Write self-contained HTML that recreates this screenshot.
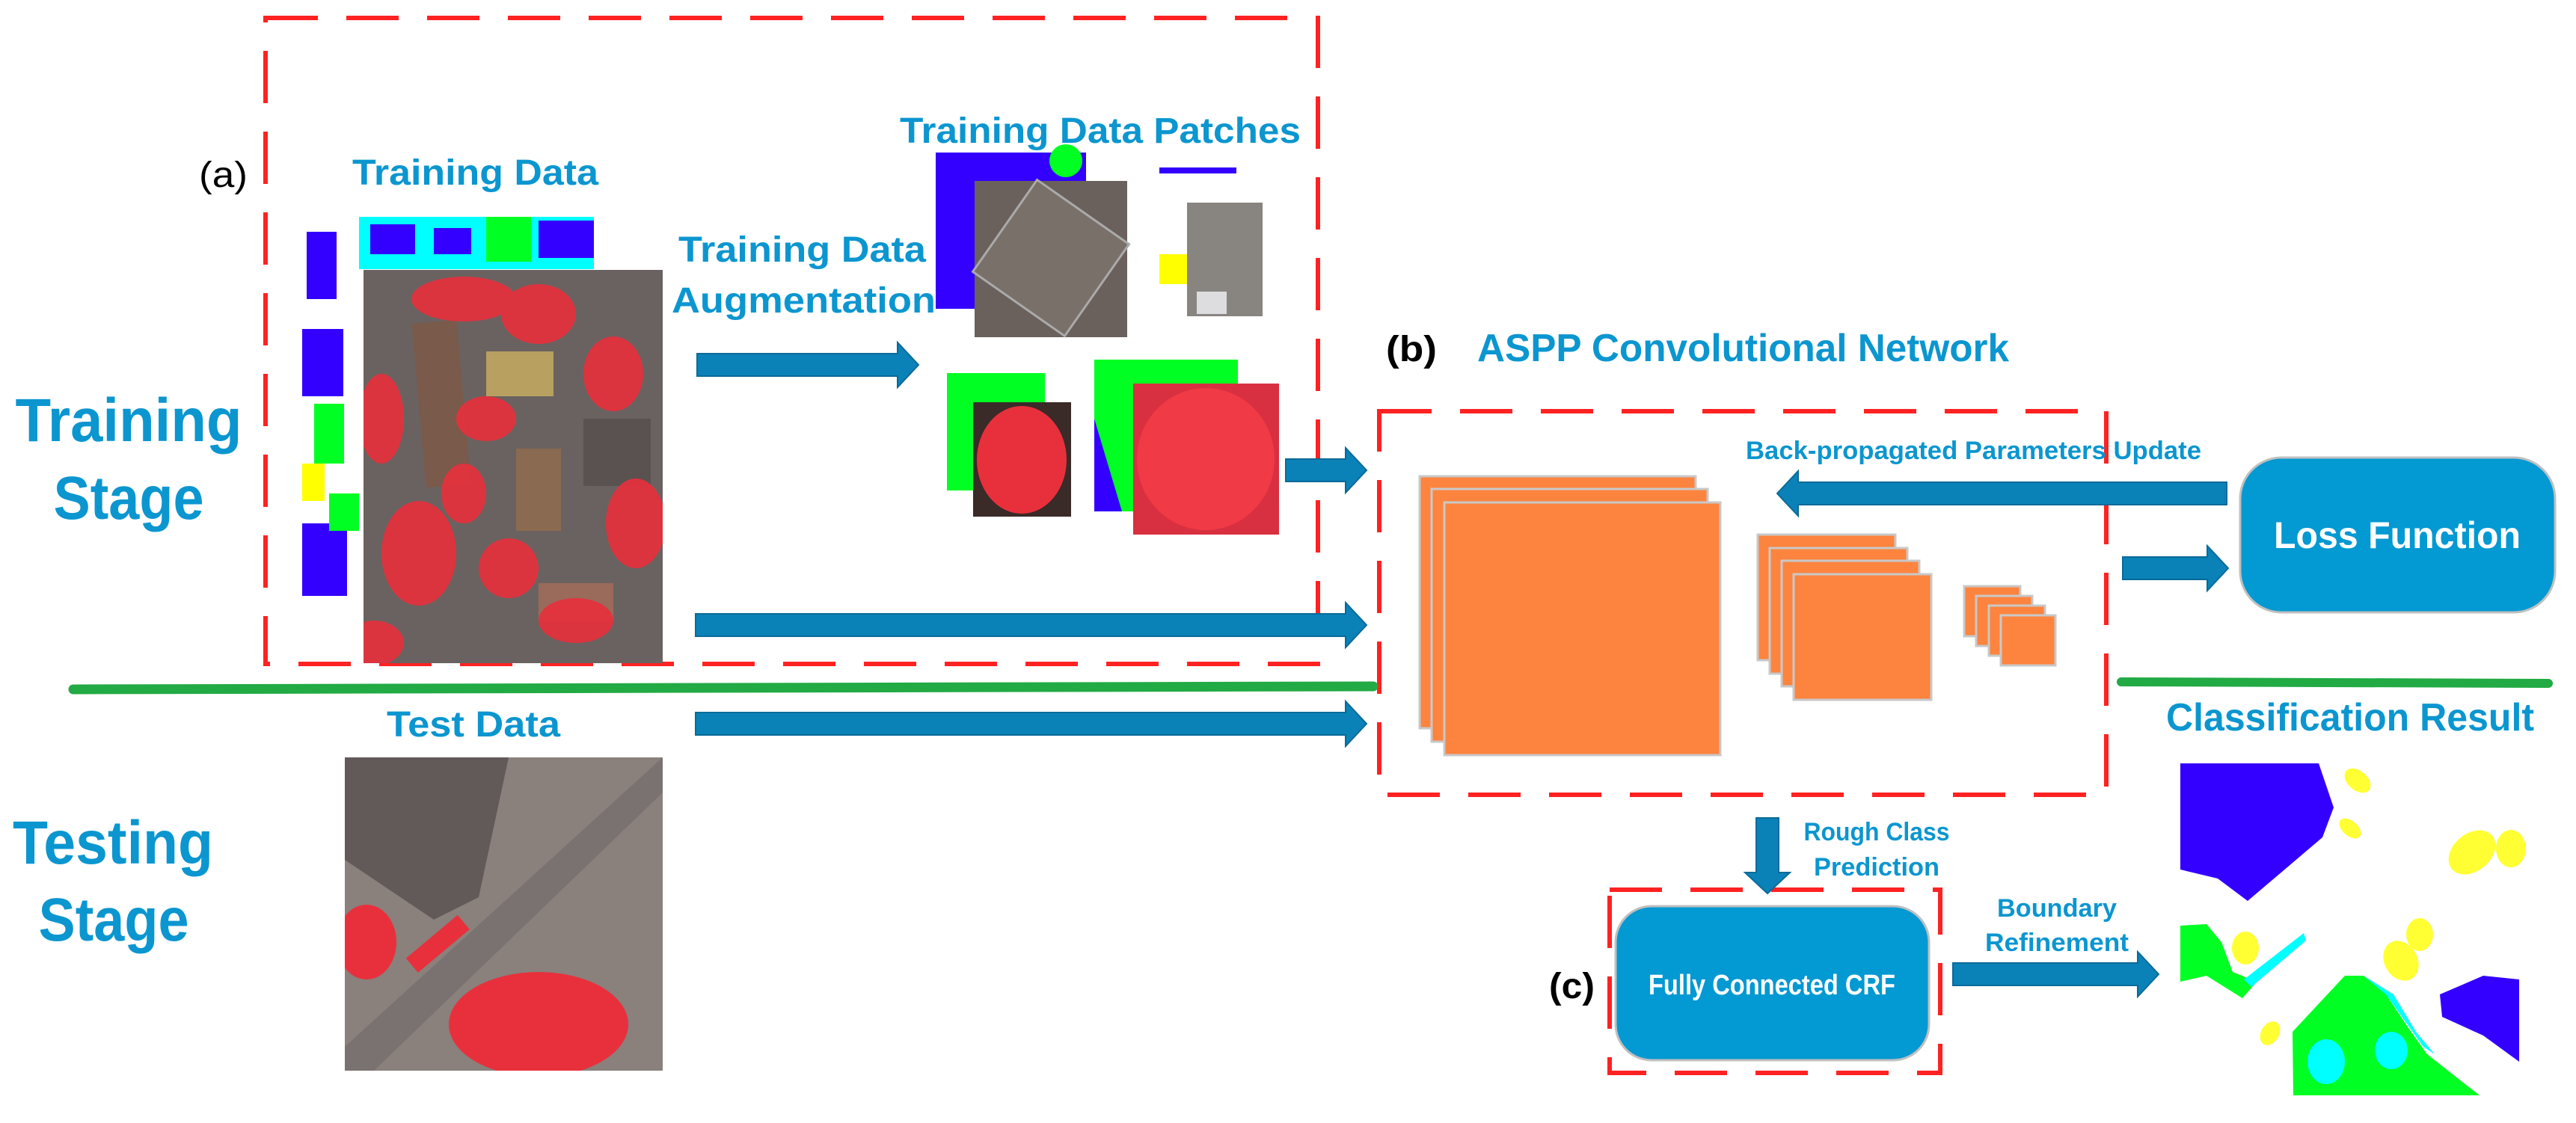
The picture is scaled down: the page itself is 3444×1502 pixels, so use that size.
<!DOCTYPE html>
<html><head><meta charset="utf-8"><style>
html,body{margin:0;padding:0;background:#fff;}
svg{display:block;}
text{font-family:"Liberation Sans",sans-serif;font-weight:bold;}
</style></head><body>
<svg width="3444" height="1502" viewBox="0 0 3444 1502" xmlns="http://www.w3.org/2000/svg">
<defs>
<clipPath id="cA"><rect x="486" y="361" width="400" height="526"/></clipPath>
<clipPath id="cT"><rect x="461" y="1013" width="425" height="419"/></clipPath>
</defs>

<!-- dashed boxes -->
<g fill="none" stroke="#ff2222" stroke-width="6" stroke-dasharray="70,38">
<rect x="355" y="24" width="1407" height="864"/>
<rect x="1844" y="550" width="972" height="513"/>
<rect x="2152" y="1190" width="442" height="245"/>
</g>

<!-- green lines -->
<path d="M98 922 L1836 918" stroke="#22aa44" stroke-width="13" stroke-linecap="round"/>
<path d="M2836 912 L3407 914" stroke="#22aa44" stroke-width="12" stroke-linecap="round"/>

<!-- stage labels -->
<g fill="#0b96d0" font-size="82">
<text x="172" y="590" text-anchor="middle" textLength="303" lengthAdjust="spacingAndGlyphs">Training</text>
<text x="172" y="694" text-anchor="middle" textLength="201" lengthAdjust="spacingAndGlyphs">Stage</text>
<text x="151" y="1155" text-anchor="middle" textLength="268" lengthAdjust="spacingAndGlyphs">Testing</text>
<text x="152" y="1258" text-anchor="middle" textLength="201" lengthAdjust="spacingAndGlyphs">Stage</text>
</g>

<g fill="#0b96d0" font-size="48">
<text x="471" y="247" textLength="329" lengthAdjust="spacingAndGlyphs">Training Data</text>
<text x="907" y="350" textLength="331" lengthAdjust="spacingAndGlyphs">Training Data</text>
<text x="898" y="418" textLength="353" lengthAdjust="spacingAndGlyphs">Augmentation</text>
<text x="1203" y="191" textLength="536" lengthAdjust="spacingAndGlyphs">Training Data Patches</text>
<text x="517" y="985" textLength="232" lengthAdjust="spacingAndGlyphs">Test Data</text>
<text x="1975" y="483" font-size="52" textLength="711" lengthAdjust="spacingAndGlyphs">ASPP Convolutional Network</text>
<text x="2896" y="977" font-size="52" textLength="492" lengthAdjust="spacingAndGlyphs">Classification Result</text>
</g>
<g fill="#000" font-size="48" font-weight="normal">
<text x="266" y="250" style="font-weight:normal" textLength="65" lengthAdjust="spacingAndGlyphs">(a)</text>
<text x="1853" y="483" textLength="68" lengthAdjust="spacingAndGlyphs">(b)</text>
<text x="2071" y="1335" textLength="61" lengthAdjust="spacingAndGlyphs">(c)</text>
</g>
<g fill="#0b96d0" font-size="34">
<text x="2334" y="614" textLength="609" lengthAdjust="spacingAndGlyphs">Back-propagated Parameters Update</text>
<text x="2509" y="1124" text-anchor="middle" textLength="195" lengthAdjust="spacingAndGlyphs">Rough Class</text>
<text x="2509" y="1171" text-anchor="middle" textLength="168" lengthAdjust="spacingAndGlyphs">Prediction</text>
<text x="2750" y="1226" text-anchor="middle" textLength="160" lengthAdjust="spacingAndGlyphs">Boundary</text>
<text x="2750" y="1272" text-anchor="middle" textLength="192" lengthAdjust="spacingAndGlyphs">Refinement</text>
</g>

<!-- arrows -->
<g fill="#0a82b8" stroke="#0a6a98" stroke-width="2">
<polygon points="932,473 1200,473 1200,458 1228,488 1200,518 1200,503 932,503"/>
<polygon points="1719,614 1799,614 1799,599 1827,629 1799,659 1799,644 1719,644"/>
<polygon points="930,821 1799,821 1799,806 1827,836 1799,866 1799,851 930,851"/>
<polygon points="930,953 1799,953 1799,938 1827,968 1799,998 1799,983 930,983"/>
<polygon points="2977,645 2404,645 2404,630 2376,660 2404,690 2404,675 2977,675"/>
<polygon points="2838,745 2951,745 2951,730 2979,760 2951,790 2951,775 2838,775"/>
<polygon points="2348,1094 2378,1094 2378,1167 2393,1167 2363,1195 2333,1167 2348,1167"/>
<polygon points="2611,1288 2858,1288 2858,1273 2886,1303 2858,1333 2858,1318 2611,1318"/>
</g>

<!-- network layers -->
<g fill="#fd843e" stroke="#c8c8c8" stroke-width="3">
<rect x="1898" y="637" width="369" height="337"/>
<rect x="1914" y="654" width="369" height="338"/>
<rect x="1931" y="672" width="369" height="338"/>
<rect x="2350" y="715" width="184" height="168"/>
<rect x="2366" y="733" width="184" height="168"/>
<rect x="2382" y="750" width="184" height="168"/>
<rect x="2398" y="768" width="184" height="168"/>
<rect x="2626" y="784" width="75" height="67"/>
<rect x="2642" y="797" width="75" height="67"/>
<rect x="2659" y="810" width="75" height="67"/>
<rect x="2675" y="823" width="73" height="67"/>
</g>

<!-- boxes -->
<rect x="2995" y="612" width="421" height="207" rx="55" fill="#0399d2" stroke="#c0c0c0" stroke-width="3"/>
<text x="3205" y="733" fill="#fff" font-size="50" text-anchor="middle" textLength="330" lengthAdjust="spacingAndGlyphs">Loss Function</text>
<rect x="2160" y="1212" width="419" height="206" rx="48" fill="#0399d2" stroke="#c0c0c0" stroke-width="3"/>
<text x="2369" y="1330" fill="#fff" font-size="38" text-anchor="middle" textLength="330" lengthAdjust="spacingAndGlyphs">Fully Connected CRF</text>

<!-- training label map -->
<rect x="404" y="284" width="390" height="513" fill="#fff"/>
<g>
<rect x="480" y="290" width="314" height="70" fill="#00ffff"/>
<rect x="495" y="300" width="60" height="40" fill="#3300ff"/>
<rect x="580" y="305" width="50" height="35" fill="#3300ff"/>
<rect x="650" y="290" width="60" height="60" fill="#00ff22"/>
<rect x="720" y="295" width="74" height="50" fill="#3300ff"/>
<rect x="410" y="310" width="40" height="90" fill="#3300ff"/>
<rect x="404" y="440" width="55" height="90" fill="#3300ff"/>
<rect x="420" y="540" width="40" height="80" fill="#00ff22"/>
<rect x="404" y="620" width="30" height="50" fill="#ffff00"/>
<rect x="404" y="700" width="60" height="97" fill="#3300ff"/>
<rect x="440" y="660" width="40" height="50" fill="#00ff22"/>
</g>

<!-- aerial image -->
<g clip-path="url(#cA)">
<rect x="486" y="361" width="400" height="526" fill="#6a6260"/>
<rect x="560" y="430" width="60" height="220" fill="#7a5a4a" transform="rotate(-5 590 540)"/>
<rect x="650" y="470" width="90" height="60" fill="#b8a060"/>
<rect x="780" y="560" width="90" height="90" fill="#5a5250"/>
<rect x="690" y="600" width="60" height="110" fill="#8a6a50"/>
<rect x="720" y="780" width="100" height="50" fill="#9a6a5a"/>
<g fill="#e8303c" opacity="0.9">
<ellipse cx="620" cy="400" rx="70" ry="30"/>
<ellipse cx="720" cy="420" rx="50" ry="40"/>
<ellipse cx="510" cy="560" rx="30" ry="60"/>
<ellipse cx="650" cy="560" rx="40" ry="30"/>
<ellipse cx="820" cy="500" rx="40" ry="50"/>
<ellipse cx="560" cy="740" rx="50" ry="70"/>
<ellipse cx="680" cy="760" rx="40" ry="40"/>
<ellipse cx="850" cy="700" rx="40" ry="60"/>
<ellipse cx="770" cy="830" rx="50" ry="30"/>
<ellipse cx="500" cy="860" rx="40" ry="30"/>
<ellipse cx="620" cy="660" rx="30" ry="40"/>
</g>
</g>

<!-- patches -->
<rect x="1251" y="204" width="201" height="209" fill="#3300ff"/>
<circle cx="1425" cy="215" r="22" fill="#00ff22"/>
<rect x="1303" y="242" width="204" height="209" fill="#6a605c"/>
<rect x="1330" y="270" width="150" height="150" fill="#7a706a" stroke="#aaa" stroke-width="3" transform="rotate(35 1405 345)"/>
<rect x="1550" y="224" width="103" height="8" fill="#3300ff"/>
<rect x="1550" y="340" width="40" height="40" fill="#ffff00"/>
<rect x="1587" y="271" width="101" height="152" fill="#888480"/>
<rect x="1600" y="390" width="40" height="30" fill="#dddde0"/>
<rect x="1266" y="499" width="131" height="157" fill="#00ff22"/>
<rect x="1301" y="538" width="131" height="153" fill="#3a2a28"/>
<ellipse cx="1366" cy="615" rx="60" ry="72" fill="#e8303c"/>
<rect x="1463" y="481" width="192" height="203" fill="#00ff22"/>
<polygon points="1463,560 1500,684 1463,684" fill="#3300ff"/>
<rect x="1515" y="513" width="195" height="202" fill="#d83040"/>
<ellipse cx="1612" cy="614" rx="92" ry="95" fill="#f03a46"/>

<!-- test image -->
<g clip-path="url(#cT)">
<rect x="461" y="1013" width="425" height="419" fill="#8a807c"/>
<polygon points="461,1013 680,1013 640,1200 580,1230 461,1150" fill="#625a58"/>
<polygon points="886,1013 886,1060 500,1432 461,1432 461,1400" fill="#7a7270"/>
<ellipse cx="720" cy="1370" rx="120" ry="70" fill="#e8303c"/>
<ellipse cx="490" cy="1260" rx="40" ry="50" fill="#e8303c"/>
<rect x="540" y="1250" width="90" height="25" fill="#e8303c" transform="rotate(-40 585 1262)"/>
</g>

<!-- classification result -->
<rect x="2915" y="1021" width="453" height="444" fill="#fff"/>
<polygon points="2915,1021 3100,1021 3120,1080 3105,1120 3005,1205 2965,1175 2915,1163" fill="#3300ff"/>
<polygon points="2915,1238 2950,1236 2970,1260 2985,1300 3010,1310 3060,1265 3080,1248 3020,1310 2998,1335 2950,1305 2915,1313" fill="#00ff22"/>
<polygon points="3000,1310 3080,1248 3083,1258 3010,1320" fill="#00ffff"/>
<polygon points="3066,1465 3065,1380 3135,1305 3160,1305 3190,1330 3220,1375 3245,1410 3315,1465" fill="#00ff22"/>
<polygon points="3160,1305 3190,1330 3240,1400 3255,1410 3230,1380 3200,1330" fill="#00ffff"/>
<ellipse cx="3110" cy="1420" rx="25" ry="30" fill="#00ffff"/>
<ellipse cx="3197" cy="1405" rx="22" ry="25" fill="#00ffff"/>
<polygon points="3262,1330 3320,1305 3368,1310 3368,1420 3320,1385 3265,1360" fill="#3300ff"/>
<g fill="#ffff33">
<ellipse cx="3152" cy="1044" rx="20" ry="13" transform="rotate(40 3152 1044)"/>
<ellipse cx="3142" cy="1108" rx="17" ry="10" transform="rotate(40 3142 1108)"/>
<ellipse cx="3305" cy="1140" rx="35" ry="25" transform="rotate(-40 3305 1140)"/>
<ellipse cx="3357" cy="1135" rx="20" ry="25"/>
<ellipse cx="3210" cy="1285" rx="22" ry="28" transform="rotate(-30 3210 1285)"/>
<ellipse cx="3235" cy="1250" rx="18" ry="22"/>
<ellipse cx="3002" cy="1268" rx="18" ry="22"/>
<ellipse cx="3035" cy="1382" rx="12" ry="17" transform="rotate(30 3035 1382)"/>
</g>
</svg>
</body></html>
